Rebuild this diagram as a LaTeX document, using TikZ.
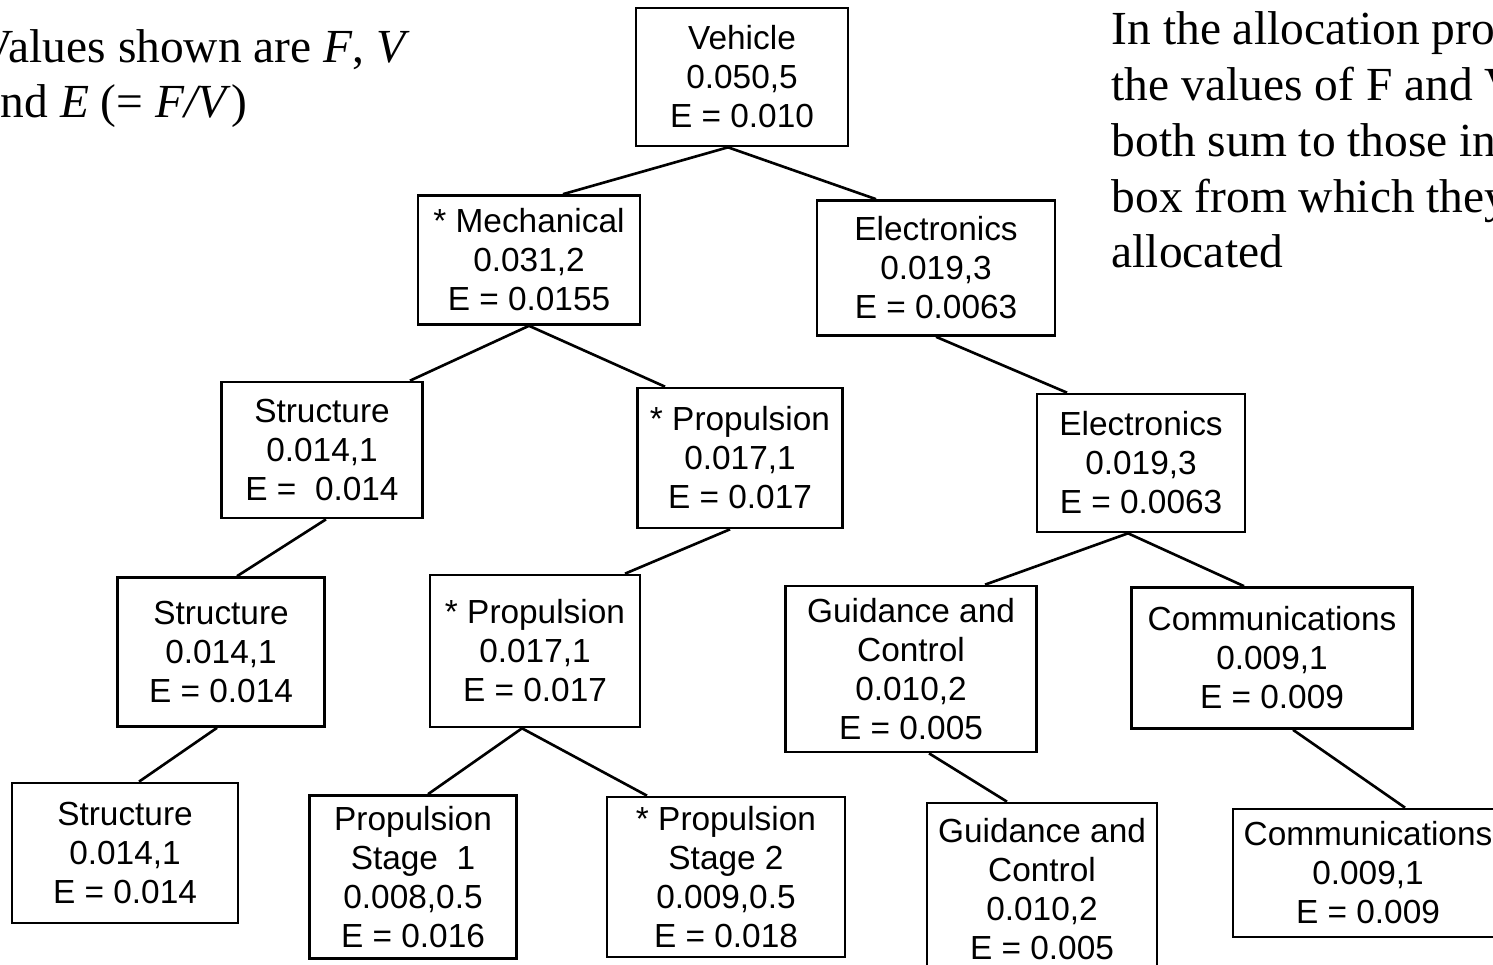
\documentclass[tikz,border=0pt]{standalone}
\usepackage{fontspec}
\setmainfont{Liberation Serif}
\newfontfamily\boxfont{Liberation Sans}
\usetikzlibrary{positioning}

\tikzset{
  blk/.style={rectangle, draw, line width=0.75pt, align=center, inner sep=0pt,
    font=\boxfont\fontsize{9.5pt}{11.1pt}\selectfont},
  note/.style={anchor=base west, align=left, inner sep=0pt,
    font=\fontsize{13.5pt}{15.9pt}\selectfont},
  link/.style={line width=0.75pt}
}

\begin{document}
\begin{tikzpicture}
  % Page frame
  \useasboundingbox (0,0) rectangle (14.93,-9.65);
  \clip (0,0) rectangle (14.93,-9.65);

  % Draw the notes (base = last line)
  \node (key) [note] at (-0.21,-1.18) {Values shown are \textit{F}, \textit{V}\\and \textit{E} (= \textit{F/V})};
  \node (rule) [note] at (11.11,-2.68) {In the allocation process\\the values of F and V\\both sum to those in\\box from which they\\allocated};

  % Create the nodes
  \node (vehicle) [blk, minimum width=2.12cm, minimum height=1.38cm] at (7.42,-0.77) {Vehicle\\0.050,5\\E = 0.010};

  \node (mech) [blk, minimum width=2.22cm, minimum height=1.29cm] at (5.29,-2.60) {* Mechanical\\0.031,2\\E = 0.0155};
  \node (eleca) [blk, minimum width=2.38cm, minimum height=1.35cm] at (9.36,-2.68) {Electronics\\0.019,3\\E = 0.0063};

  \node (structa) [blk, minimum width=2.01cm, minimum height=1.36cm] at (3.22,-4.50) {Structure\\0.014,1\\E = \ 0.014};
  \node (propa) [blk, minimum width=2.05cm, minimum height=1.40cm] at (7.40,-4.58) {* Propulsion\\0.017,1\\E = 0.017};
  \node (elecb) [blk, minimum width=2.08cm, minimum height=1.38cm] at (11.41,-4.63) {Electronics\\0.019,3\\E = 0.0063};

  \node (structb) [blk, minimum width=2.07cm, minimum height=1.49cm] at (2.21,-6.52) {Structure\\0.014,1\\E = 0.014};
  \node (propb) [blk, minimum width=2.10cm, minimum height=1.52cm] at (5.35,-6.51) {* Propulsion\\0.017,1\\E = 0.017};
  \node (guida) [blk, minimum width=2.51cm, minimum height=1.66cm] at (9.11,-6.69) {Guidance and\\Control\\0.010,2\\E = 0.005};
  \node (comma) [blk, minimum width=2.81cm, minimum height=1.41cm] at (12.72,-6.58) {Communications\\0.009,1\\E = 0.009};

  \node (structc) [blk, minimum width=2.26cm, minimum height=1.40cm] at (1.25,-8.53) {Structure\\0.014,1\\E = 0.014};
  \node (stagea) [blk, minimum width=2.07cm, minimum height=1.63cm] at (4.13,-8.77) {Propulsion\\Stage\ \ 1\\0.008,0.5\\E = 0.016};
  \node (stageb) [blk, minimum width=2.38cm, minimum height=1.60cm] at (7.26,-8.77) {* Propulsion\\Stage 2\\0.009,0.5\\E = 0.018};
  \node (guidb) [blk, minimum width=2.30cm, minimum height=1.72cm] at (10.42,-8.89) {Guidance and\\Control\\0.010,2\\E = 0.005};
  \node (commb) [blk, minimum width=2.70cm, minimum height=1.28cm] at (13.68,-8.73) {Communications\\0.009,1\\E = 0.009};

  % Draw the links
  \draw [link] ([xshift=-0.14cm]vehicle.south) -- ([xshift=0.34cm]mech.north);
  \draw [link] ([xshift=-0.14cm]vehicle.south) -- ([xshift=-0.60cm]eleca.north);

  \draw [link] (mech.south) -- ([xshift=0.88cm]structa.north);
  \draw [link] (mech.south) -- ([xshift=-0.75cm]propa.north);

  \draw [link] ([xshift=0.04cm]structa.south) -- ([xshift=0.16cm]structb.north);
  \draw [link] ([xshift=-0.04cm]structb.south) -- ([xshift=0.14cm]structc.north);

  \draw [link] ([xshift=-0.10cm]propa.south) -- ([xshift=0.90cm]propb.north);
  \draw [link] ([xshift=-0.13cm]propb.south) -- ([xshift=0.15cm]stagea.north);
  \draw [link] ([xshift=-0.13cm]propb.south) -- ([xshift=-0.79cm]stageb.north);

  \draw [link] (eleca.south) -- ([xshift=-0.74cm]elecb.north);
  \draw [link] ([xshift=-0.13cm]elecb.south) -- ([xshift=0.74cm]guida.north);
  \draw [link] ([xshift=-0.13cm]elecb.south) -- ([xshift=-0.28cm]comma.north);

  \draw [link] ([xshift=0.18cm]guida.south) -- ([xshift=-0.35cm]guidb.north);
  \draw [link] ([xshift=0.21cm]comma.south) -- ([xshift=0.37cm]commb.north);
\end{tikzpicture}
\end{document}
